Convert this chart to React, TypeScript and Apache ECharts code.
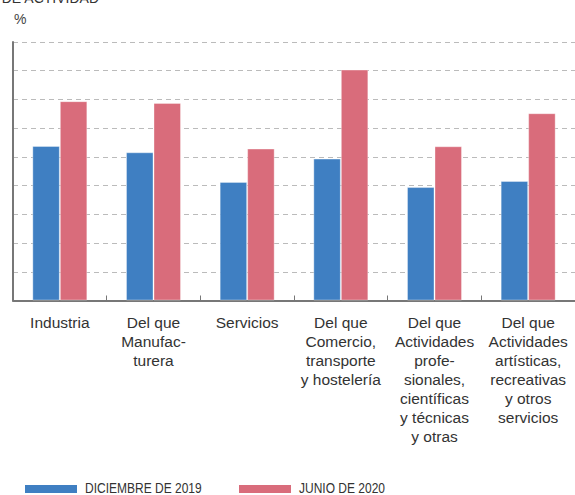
import React, { useEffect, useRef } from "react";
import * as echarts from "echarts";

const categories = [
  "Industria",
  "Del que\nManufac-\nturera",
  "Servicios",
  "Del que\nComercio,\ntransporte\ny hostelería",
  "Del que\nActividades\nprofe-\nsionales,\ncientíficas\ny técnicas\ny otras",
  "Del que\nActividades\nartísticas,\nrecreativas\ny otros\nservicios",
];
const dic2019 = [5.38, 5.16, 4.13, 4.94, 3.95, 4.16];
const jun2020 = [6.94, 6.88, 5.29, 8.04, 5.37, 6.52];
const seriesNames = ["DICIEMBRE DE 2019", "JUNIO DE 2020"];

const BLUE = "#3F7FC2";
const RED = "#D96C7B";
const FONT = "'Liberation Sans', Arial, Helvetica, sans-serif";

function legendItem(name: string, color: string, x: number) {
  return {
    type: "group",
    x,
    y: 0,
    children: [
      { type: "rect", shape: { x: 0, y: 485, width: 52, height: 8 }, style: { fill: color } },
      {
        type: "text",
        x: 60,
        y: 488.5,
        scaleX: 0.8,
        style: {
          text: name,
          fontSize: 15,
          fontFamily: FONT,
          fill: "#333",
          verticalAlign: "middle",
          align: "left",
        },
      },
    ],
  };
}

export default function App() {
  const ref = useRef<HTMLDivElement>(null);
  useEffect(() => {
    if (!ref.current) return;
    const chart = echarts.init(ref.current, undefined, { renderer: "svg" });
    chart.setOption({
      animation: false,
      backgroundColor: "#ffffff",
      grid: { left: 13, top: 42, width: 571, height: 258.5 },
      legend: { show: false, data: seriesNames },
      graphic: [
        {
          type: "text",
          x: 99,
          y: -9,
          style: {
            text: "DE ACTIVIDAD",
            align: "right",
            verticalAlign: "top",
            fontSize: 14,
            fontFamily: FONT,
            fill: "#333",
          },
        },
        {
          type: "text",
          x: 14,
          y: 12,
          style: {
            text: "%",
            fontSize: 14,
            fontFamily: FONT,
            fill: "#444",
          },
        },
        legendItem(seriesNames[0], BLUE, 25),
        legendItem(seriesNames[1], RED, 239),
      ],
      xAxis: {
        type: "category",
        data: categories,
        axisLine: { show: true, lineStyle: { color: "#777", width: 2 } },
        axisTick: {
          show: true,
          inside: true,
          length: 5,
          interval: 0,
          lineStyle: { color: "#777", width: 1 },
        },
        axisLabel: {
          interval: 0,
          margin: 12,
          fontSize: 15.5,
          lineHeight: 19,
          fontFamily: FONT,
          color: "#333",
          align: "center",
        },
      },
      yAxis: {
        type: "value",
        min: 0,
        max: 9,
        interval: 1,
        axisLine: { show: true, lineStyle: { color: "#777", width: 2 } },
        axisTick: { show: false },
        axisLabel: { show: false },
        splitLine: {
          show: true,
          lineStyle: { color: "#bbb", type: [5, 4], width: 1 },
        },
      },
      series: [
        {
          name: seriesNames[0],
          type: "bar",
          data: dic2019,
          barWidth: 27.5,
          barGap: "0%",
          itemStyle: { color: BLUE, borderColor: "rgba(255,255,255,0.35)", borderWidth: 1 },
        },
        {
          name: seriesNames[1],
          type: "bar",
          data: jun2020,
          barWidth: 27.5,
          barGap: "0%",
          itemStyle: { color: RED, borderColor: "rgba(255,255,255,0.35)", borderWidth: 1 },
        },
      ],
    });
    return () => chart.dispose();
  }, []);
  return (
    <div
      ref={ref}
      style={{ position: "fixed", left: 0, top: 0, width: 575, height: 495 }}
    />
  );
}
